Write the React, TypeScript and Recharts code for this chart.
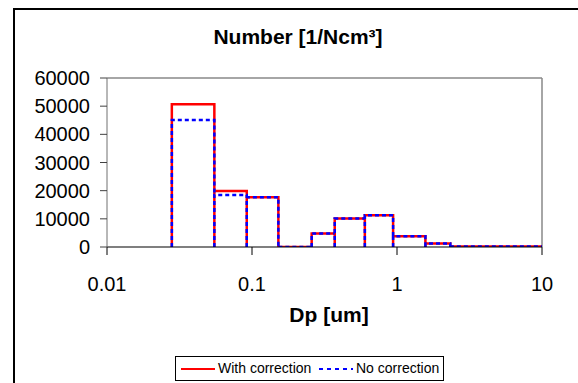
import { LineChart, Line, XAxis, YAxis, ReferenceLine } from 'recharts'

// bin edges of the size distribution, Dp in um
const binEdges = [0.028, 0.055, 0.092, 0.152, 0.258, 0.372, 0.6, 0.94, 1.57, 2.33, 10]
const withCorrection = [50700, 19900, 17700, 0, 4800, 10100, 11300, 3800, 1200, 150]
const noCorrection = [45100, 18500, 17700, 0, 4800, 10100, 11300, 3800, 1200, 150]
const seriesNames = ['With correction', 'No correction']
const xTicks = [0.01, 0.1, 1, 10]
const yTicks = [0, 10000, 20000, 30000, 40000, 50000, 60000]

const FONT = '"Liberation Sans", Arial, sans-serif'

// outline of one series as open boxes; each shared edge is traced only once
// (null rows lift the pen) so the dashes don't pile up into a solid line
function outline(values: number[]) {
  const pts: { x: number; y: number | null }[] = []
  values.forEach((v, i) => {
    const lo = binEdges[i]
    const hi = binEdges[i + 1]
    const next = i + 1 < values.length ? values[i + 1] : 0
    pts.push({ x: lo, y: 0 }, { x: lo, y: v }, { x: hi, y: v })
    if (next < v) pts.push({ x: hi, y: next })
    pts.push({ x: hi, y: null })
  })
  return pts
}

const redPts = outline(withCorrection)
const bluePts = outline(noCorrection)
const data = redPts.map((p, i) => ({ x: p.x, red: p.y, blue: bluePts[i].y }))

export default function App() {
  return (
    <div style={{ position: 'absolute', left: 0, top: 0, width: 578, height: 383, overflow: 'hidden', background: '#fff', fontFamily: FONT }}>
      <div style={{ position: 'absolute', left: 13, top: 8, width: 600, height: 400, borderLeft: '2px solid #000', borderTop: '2px solid #000' }} />

      <LineChart
        width={578}
        height={383}
        data={data}
        margin={{ top: 78, right: 36, left: 0, bottom: 0 }}
        style={{ position: 'absolute', left: 0, top: 0 }}
      >
        <XAxis
          dataKey="x"
          type="number"
          scale="log"
          domain={[0.01, 10]}
          ticks={xTicks}
          allowDataOverflow
          height={136}
          tickSize={8}
          tickMargin={22}
          axisLine={{ stroke: '#000', strokeWidth: 1.2 }}
          tickLine={{ stroke: '#000' }}
          tick={{ fontSize: 20, fill: '#000', fontFamily: FONT }}
        />
        <YAxis
          type="number"
          domain={[0, 60000]}
          ticks={yTicks}
          allowDataOverflow
          width={107}
          tickSize={7}
          tickMargin={10}
          axisLine={{ stroke: '#707070' }}
          tickLine={{ stroke: '#404040' }}
          tick={{ fontSize: 20, fill: '#000', fontFamily: FONT }}
        />
        <ReferenceLine y={60000} stroke="#888" strokeWidth={1.5} />
        <ReferenceLine x={10} stroke="#888" strokeWidth={1.5} />
        <Line
          type="linear"
          dataKey="red"
          stroke="#ff0000"
          strokeWidth={2.5}
          dot={false}
          connectNulls={false}
          isAnimationActive={false}
        />
        <Line
          type="linear"
          dataKey="blue"
          stroke="#0000ff"
          strokeWidth={2.5}
          strokeDasharray="4 3"
          dot={false}
          connectNulls={false}
          isAnimationActive={false}
        />
      </LineChart>

      <div style={{ position: 'absolute', left: 198, width: 200, top: 26, textAlign: 'center', fontSize: 21, lineHeight: '21px', fontWeight: 'bold' }}>
        Number [1/Ncm³]
      </div>
      <div style={{ position: 'absolute', left: 229, width: 200, top: 304, textAlign: 'center', fontSize: 21, lineHeight: '21px', fontWeight: 'bold' }}>
        Dp [um]
      </div>

      <div style={{ position: 'absolute', left: 175, top: 356, width: 269, height: 25, border: '1px solid #000', boxSizing: 'border-box', fontSize: 14 }}>
        <svg width={269} height={25} style={{ position: 'absolute', left: 0, top: 0 }}>
          <line x1={5} x2={39} y1={12} y2={12} stroke="#ff0000" strokeWidth={2} />
          <line x1={143} x2={177} y1={12} y2={12} stroke="#0000ff" strokeWidth={2} strokeDasharray="4 4" />
        </svg>
        <div style={{ position: 'absolute', left: 42, top: 3, lineHeight: '17px', whiteSpace: 'nowrap' }}>{seriesNames[0]}</div>
        <div style={{ position: 'absolute', left: 180, top: 3, lineHeight: '17px', whiteSpace: 'nowrap' }}>{seriesNames[1]}</div>
      </div>
    </div>
  )
}
